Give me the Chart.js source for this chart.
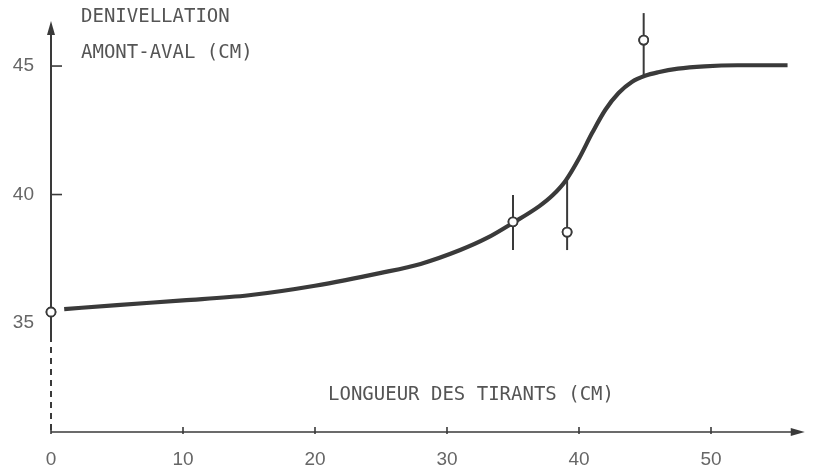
<!DOCTYPE html>
<html>
<head>
<meta charset="utf-8">
<script src="https://cdn.jsdelivr.net/npm/chart.js"></script>
<style>
  html, body { margin: 0; padding: 0; background: #fff; }
  #wrap { width: 817px; height: 471px; position: relative; }
</style>
</head>
<body>
<div id="wrap"><canvas id="chart" width="817" height="471"></canvas></div>
<script>
// courbe lissée
const curveX = [1, 5, 10, 15, 20, 25, 28, 31, 33, 35, 37, 38, 39, 40, 41, 42, 43, 44, 45, 46, 47.5, 49.5, 52, 55.8];
const curveY = [35.54, 35.7, 35.88, 36.08, 36.45, 36.95, 37.3, 37.84, 38.3, 38.9, 39.55, 39.97, 40.55, 41.4, 42.4, 43.3, 43.95, 44.38, 44.62, 44.76, 44.9, 44.99, 45.03, 45.03];

// points mesurés + barres d'erreur
const measX = [0, 35, 39.1, 44.9];
const measY = [35.43, 38.94, 38.54, 46.01];
const errLow = [34.8, 37.84, 37.84, 44.58];
const errHigh = [36.09, 39.98, 40.53, 47.06];

const xTicks = [0, 10, 20, 30, 40, 50];
const yTicks = [35, 40, 45];
const yTickMarks = [40, 45];

const xTitle = 'LONGUEUR DES TIRANTS (CM)';
const yTitle = ['DENIVELLATION', 'AMONT-AVAL (CM)'];

const ink = '#3a3a3a';
const textCol = '#555';
const monoFont = '19px "DejaVu Sans Mono", monospace';

const axesPlugin = {
  id: 'axes',
  afterDraw(chart) {
    const ctx = chart.ctx;
    const xs = chart.scales.x, ys = chart.scales.y;
    const x0 = xs.getPixelForValue(0);
    const yAxis = ys.getPixelForValue(ys.min);
    const yTop = ys.getPixelForValue(46.75);
    const yBreak = ys.getPixelForValue(34.5);
    const xEnd = xs.getPixelForValue(57.1);
    ctx.save();
    ctx.strokeStyle = ink;
    ctx.fillStyle = ink;
    ctx.lineWidth = 2;
    // axe Y : plein puis pointillé
    ctx.beginPath();
    ctx.moveTo(x0, yTop + 8);
    ctx.lineTo(x0, yBreak);
    ctx.stroke();
    ctx.setLineDash([6, 5]);
    ctx.beginPath();
    ctx.moveTo(x0, yBreak);
    ctx.lineTo(x0, yAxis);
    ctx.stroke();
    ctx.setLineDash([]);
    // flèche Y
    ctx.beginPath();
    ctx.moveTo(x0, yTop);
    ctx.lineTo(x0 - 4, yTop + 14);
    ctx.lineTo(x0 + 4, yTop + 14);
    ctx.closePath();
    ctx.fill();
    // axe X
    ctx.lineWidth = 1.6;
    ctx.beginPath();
    ctx.moveTo(x0, yAxis);
    ctx.lineTo(xEnd - 8, yAxis);
    ctx.stroke();
    ctx.beginPath();
    ctx.moveTo(xEnd, yAxis);
    ctx.lineTo(xEnd - 14, yAxis - 4);
    ctx.lineTo(xEnd - 14, yAxis + 4);
    ctx.closePath();
    ctx.fill();
    // graduations
    xTicks.forEach(v => {
      const px = xs.getPixelForValue(v);
      ctx.beginPath();
      ctx.moveTo(px, yAxis + 2);
      ctx.lineTo(px, yAxis - 5);
      ctx.stroke();
    });
    yTickMarks.forEach(v => {
      const py = ys.getPixelForValue(v);
      ctx.beginPath();
      ctx.moveTo(x0, py);
      ctx.lineTo(x0 + 11, py);
      ctx.stroke();
    });
    // barres d'erreur
    ctx.lineWidth = 2;
    measX.forEach((v, i) => {
      const px = xs.getPixelForValue(v);
      ctx.beginPath();
      ctx.moveTo(px, ys.getPixelForValue(errHigh[i]));
      ctx.lineTo(px, ys.getPixelForValue(errLow[i]));
      ctx.stroke();
    });
    // titres
    ctx.fillStyle = textCol;
    ctx.font = monoFont;
    ctx.textAlign = 'left';
    ctx.textBaseline = 'middle';
    ctx.fillText(yTitle[0], 81, 17);
    ctx.fillText(yTitle[1], 81, 53);
    ctx.fillText(xTitle, 328, 395);
    ctx.restore();
  }
};

// redessine les cercles par-dessus les barres
const pointsOnTop = {
  id: 'pointsOnTop',
  afterDraw(chart) {
    chart.getDatasetMeta(1).controller.draw();
  }
};

new Chart(document.getElementById('chart'), {
  type: 'scatter',
  data: {
    datasets: [
      {
        data: curveX.map((x, i) => ({ x, y: curveY[i] })),
        showLine: true,
        borderColor: ink,
        borderWidth: 4.2,
        pointRadius: 0,
        cubicInterpolationMode: 'monotone'
      },
      {
        data: measX.map((x, i) => ({ x, y: measY[i] })),
        pointStyle: 'circle',
        pointRadius: 4.5,
        pointBackgroundColor: '#fff',
        pointBorderColor: ink,
        pointBorderWidth: 1.8
      }
    ]
  },
  options: {
    responsive: false,
    animation: false,
    clip: false,
    layout: { padding: { top: 9.5, right: 7, left: 0, bottom: 0 } },
    plugins: { legend: { display: false }, tooltip: { enabled: false } },
    scales: {
      x: {
        type: 'linear',
        min: 0,
        max: 57.5,
        grid: { display: false },
        border: { display: false },
        afterBuildTicks: s => { s.ticks = xTicks.map(v => ({ value: v })); },
        afterFit: s => { s.height = 39; s.paddingLeft = 0; s.paddingRight = 0; },
        ticks: {
          color: '#666',
          font: { family: '"Liberation Sans", Arial, sans-serif', size: 19 },
          padding: 8,
          maxRotation: 0
        }
      },
      y: {
        type: 'linear',
        min: 30.76,
        max: 47.2,
        grid: { display: false },
        border: { display: false },
        afterBuildTicks: s => { s.ticks = yTicks.map(v => ({ value: v })); },
        afterFit: s => { s.width = 51; s.paddingTop = 0; s.paddingBottom = 0; },
        ticks: {
          color: '#666',
          font: { family: '"Liberation Sans", Arial, sans-serif', size: 19 },
          padding: 9
        }
      }
    }
  },
  plugins: [axesPlugin, pointsOnTop]
});
</script>
</body>
</html>
